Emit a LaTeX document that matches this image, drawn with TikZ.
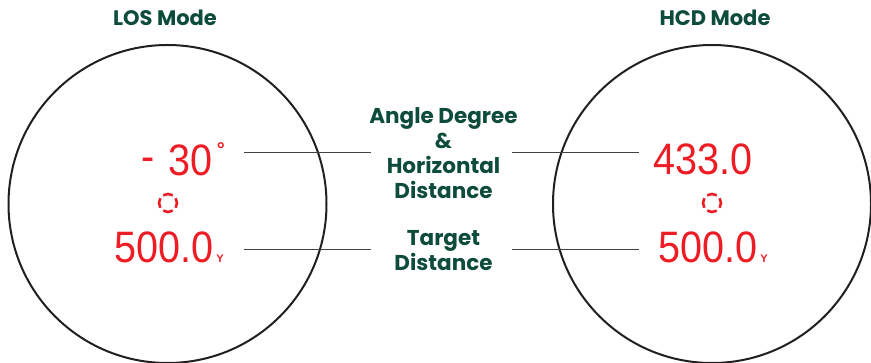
\documentclass[tikz,border=0pt]{standalone}
\usepackage{fontspec}
\setmainfont{Poppins}
\newfontfamily\digitfont{Liberation Sans}
\definecolor{lcdred}{HTML}{EE1D25}
\definecolor{labelgreen}{HTML}{0D4B3B}
\definecolor{rim}{HTML}{231F20}
\begin{document}
\begin{tikzpicture}[x=1pt,y=-1pt,
  titletext/.style={font=\fontsize{21}{21}\selectfont\bfseries, text=labelgreen, inner sep=0pt},
  labeltext/.style={font=\fontsize{21.5}{25}\selectfont\bfseries, text=labelgreen, align=center, inner sep=0pt},
  lens/.style={circle, draw=rim, line width=2pt, minimum size=318pt, inner sep=0pt},
  readout/.style={font=\digitfont\fontsize{44}{44}\selectfont, text=lcdred, inner sep=0pt},
  leader/.style={draw=rim!85, line width=1.1pt},
  reticle/.style={draw=lcdred, line width=2.6pt}
]
\useasboundingbox (0,0) rectangle (871,363);
\fill[white] (0,0) rectangle (871,363);

% lenses
\node[lens] (lensL) at (167.5,204) {};
\node[lens] (lensR) at (712,204) {};

% titles
\node[titletext] (titleL) at (165,18) {LOS Mode};
\node[titletext] (titleR) at (715,18) {HCD Mode};

% middle labels
\node[labeltext] (angleLbl) at (443.5,153) {Angle Degree\\\&\\Horizontal\\Distance};
\node[labeltext] (targetLbl) at (443.5,251) {Target\\Distance};

% left readouts
\node[readout, anchor=base east] (angL) at (225,176)
  {\scalebox{0.9}[1]{\raisebox{4pt}{-}\hspace{16pt}30}\hspace{4pt}\raisebox{19pt}{\fontsize{20}{20}\selectfont\bfseries °}};
\node[readout, anchor=base east] (distL) at (224,263)
  {\scalebox{0.9}[1]{500.0}\hspace{3pt}{\fontsize{11}{11}\selectfont\bfseries Y}};

% right readouts
\node[readout, anchor=base east] (horR) at (753,175) {\scalebox{0.9}[1]{433.0}};
\node[readout, anchor=base east] (distR) at (768,263)
  {\scalebox{0.9}[1]{500.0}\hspace{3pt}{\fontsize{11}{11}\selectfont\bfseries Y}};

% reticles
\coordinate (retL) at (168,203);
\coordinate (retR) at (712,203);
\foreach \c in {retL,retR}{
  \foreach \a in {0,90,180,270}{
    \draw[reticle] (\c) ++(\a-32:9pt) arc[start angle=\a-32, end angle=\a+32, radius=9pt];
  }
}

% leader lines
\coordinate (l1a) at (244,152.3);
\coordinate (l1b) at (371,152.3);
\coordinate (l2a) at (244,249.3);
\coordinate (l2b) at (371,249.3);
\coordinate (r1a) at (512,152.3);
\coordinate (r1b) at (639,152.3);
\coordinate (r2a) at (512,249.3);
\coordinate (r2b) at (639,249.3);
\draw[leader] (l1a) -- (l1b);
\draw[leader] (l2a) -- (l2b);
\draw[leader] (r1a) -- (r1b);
\draw[leader] (r2a) -- (r2b);
\end{tikzpicture}
\end{document}
